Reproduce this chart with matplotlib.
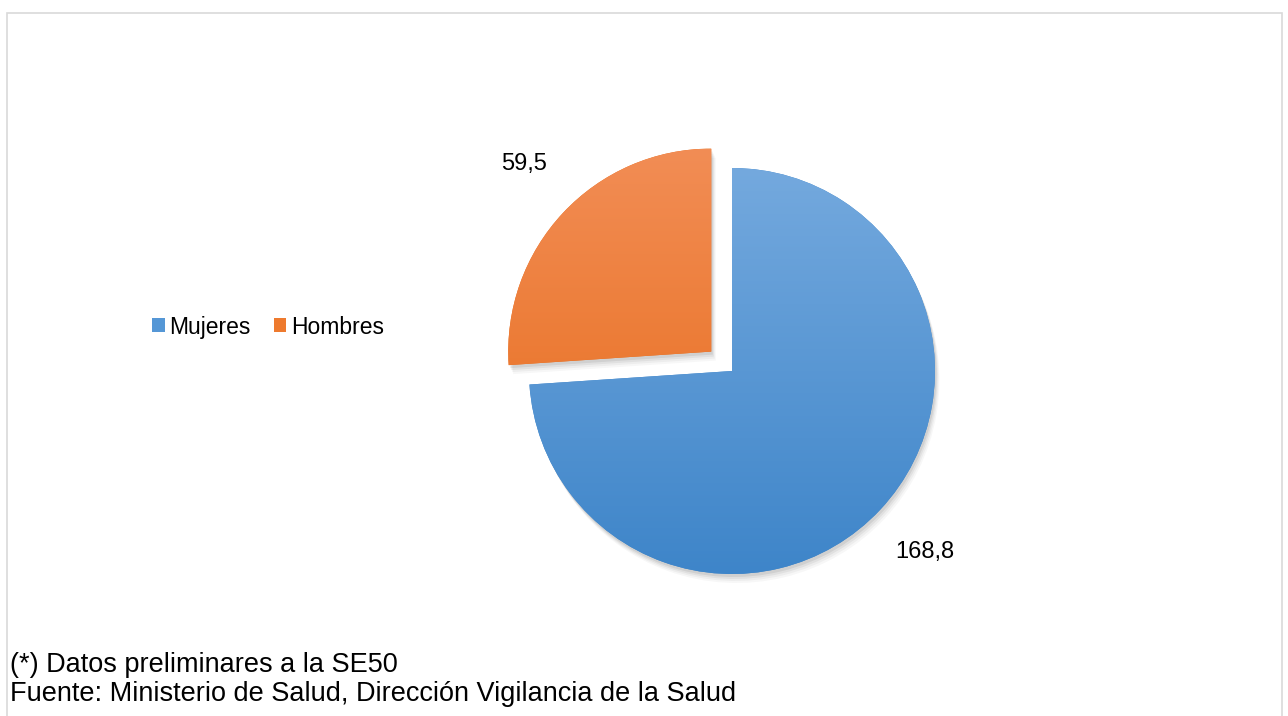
import numpy as np
import matplotlib
matplotlib.use("Agg")
import matplotlib.pyplot as plt
from matplotlib.patches import Rectangle, Wedge
from matplotlib.colors import LinearSegmentedColormap

# datos
categorias = ["Mujeres", "Hombres"]
valores = [168.8, 59.5]
etiquetas = ["168,8", "59,5"]

nota = "(*) Datos preliminares a la SE50"
fuente = "Fuente: Ministerio de Salud, Dirección Vigilancia de la Salud"

colores_top = ["#74a9de", "#f28d55"]
colores_bottom = ["#3e85c9", "#e66a17"]

plt.rcParams["font.family"] = ["Liberation Sans", "DejaVu Sans"]

fig = plt.figure(figsize=(12.88, 7.16), dpi=100)
ax = fig.add_axes([0, 0, 1, 1])
ax.set_xlim(0, 1288)
ax.set_ylim(0, 716)
ax.set_aspect("equal")
ax.axis("off")

# marco del grafico
fig.patches.append(Rectangle((7 / 1288, -0.05), 1275 / 1288, (716 - 13) / 716 + 0.05,
                             transform=fig.transFigure, fill=False,
                             edgecolor="#d9d9d9", linewidth=1.2))

centro = (732, 345)
radio = 203
# en matplotlib el explode va en unidades de datos
explode = [0.0, 0.14 * radio]

wedges, _ = ax.pie(valores, startangle=90, counterclock=False, explode=explode,
                   center=centro, radius=radio, colors=colores_bottom,
                   wedgeprops=dict(linewidth=0))

for w, c_top, c_bot in zip(wedges, colores_top, colores_bottom):
    # sombra suave
    for k, a in [(9, 0.03), (7, 0.04), (5, 0.05), (3, 0.07)]:
        s = Wedge((w.center[0] + k * 0.5, w.center[1] - k), w.r, w.theta1, w.theta2,
                  facecolor="black", alpha=a, linewidth=0, zorder=0)
        ax.add_patch(s)
    # degradado vertical
    x0, y0 = w.center[0] - w.r, w.center[1] - w.r
    cmap = LinearSegmentedColormap.from_list("g", [c_bot, c_top])
    grad = np.linspace(0, 1, 256).reshape(-1, 1)
    img = ax.imshow(grad, cmap=cmap, origin="lower", aspect="auto",
                    extent=(x0, x0 + 2 * w.r, y0, y0 + 2 * w.r), zorder=2)
    img.set_clip_path(w)
    w.set_zorder(1)

ax.set_xlim(0, 1288)
ax.set_ylim(0, 716)

ax.text(925, 716 - 552, etiquetas[0], fontsize=17, ha="center", va="center")
ax.text(524, 716 - 164, etiquetas[1], fontsize=17, ha="center", va="center")

handles = [Rectangle((0, 0), 1, 1, facecolor=c) for c in ["#5597d6", "#ee7a2e"]]
fig.legend(handles, categorias, loc="center left", bbox_to_anchor=(143 / 1288, 1 - 327 / 716),
           ncol=2, frameon=False, fontsize=16.5, handlelength=0.55, handleheight=0.55,
           handletextpad=0.2, columnspacing=1.0, borderaxespad=0)

fig.text(10 / 1288, 1 - 665 / 716, nota, fontsize=19.5, va="center")
fig.text(10 / 1288, 1 - 694 / 716, fuente, fontsize=19.5, va="center")

fig.savefig("out.png", dpi=100)
